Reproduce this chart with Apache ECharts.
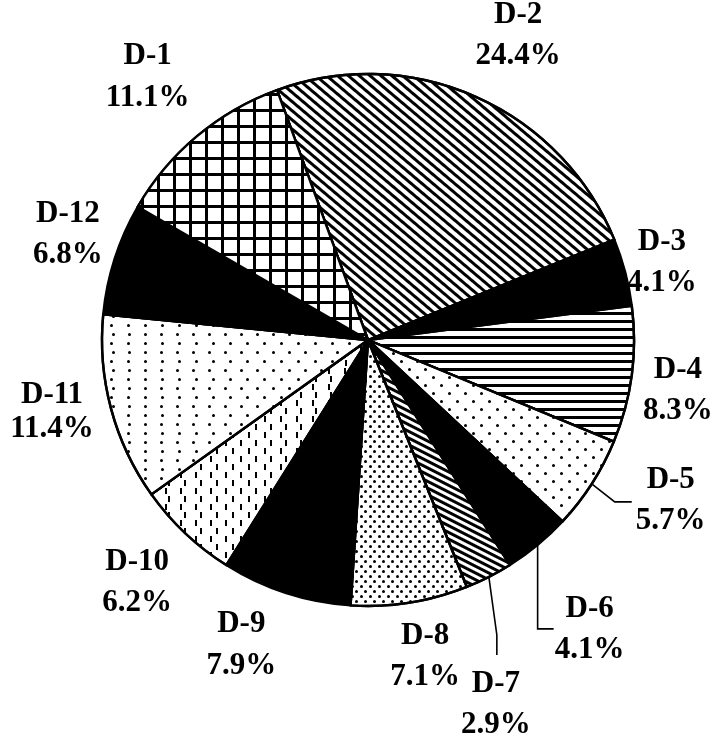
<!DOCTYPE html>
<html><head><meta charset="utf-8">
<script src="https://cdn.jsdelivr.net/npm/echarts@6/dist/echarts.min.js"></script>
<style>html,body{margin:0;padding:0;background:#fff}#c{width:713px;height:745px}</style>
</head><body><div id="c"></div>
<script>
// ---- data ----
const categories = ['D-2','D-3','D-4','D-5','D-6','D-7','D-8','D-9','D-10','D-11','D-12','D-1'];
const shares = [24.4, 4.1, 8.3, 5.7, 4.1, 2.9, 7.1, 7.9, 6.2, 11.4, 6.8, 11.1];
const shareLabels = ['24.4%','4.1%','8.3%','5.7%','4.1%','2.9%','7.1%','7.9%','6.2%','11.4%','6.8%','11.1%'];

// ---- layout ----
const CX = 368, CY = 340, R = 266, START = 110;
const labelDist  = [340, 304, 314, 0, 0, 0, 322, 330, 335, 324, 318, 343];
const labelNudge = [-2.3, 0, -1.7, 0, 0, 0, 1.2, -4.6, -0.2, -2.2, -1.5, 0];
const labelLineHeight = [41, 41, 41, 41, 41, 41, 41, 42, 41, 34, 41, 42];
const leaders = {
  3: { pts: [[23, 18], [40, 18]], text: [79, 17] },
  4: { pts: [[0, 84], [16, 84]], text: [52, 85] },
  5: { pts: [[8, 58], [8, 78]], text: [7, 128] }
};

// ---- styles ----
const BLACK = '#000', WHITE = '#fff';
const hatch = (rot, line, gap) => ({ symbol: 'rect', symbolSize: 1, dashArrayX: [1, 0], dashArrayY: [line, gap], rotation: rot, color: BLACK });
const dots = (d, px, py) => ({ symbol: 'circle', symbolSize: 1, dashArrayX: [[d, px - d], [0, px / 2, d, px / 2 - d]], dashArrayY: [d, py - d], color: BLACK });
const fills = [
  { color: WHITE, decal: hatch(0.70, 3, 3.2) },        // D-2
  { color: BLACK },                                     // D-3
  { color: WHITE, decal: hatch(0, 2.6, 4.9) },          // D-4
  { color: WHITE, decal: dots(3, 15.3, 7.6) },          // D-5
  { color: BLACK },                                     // D-6
  { color: WHITE, decal: hatch(0.47, 2.2, 2.6) },       // D-7
  { color: WHITE, decal: dots(2.6, 8, 4) },             // D-8
  { color: BLACK },                                     // D-9
  { color: WHITE, decal: { symbol: 'rect', symbolSize: 1, dashArrayX: [[2, 13], [0, 7.5, 2, 5.5]], dashArrayY: [6, 1.5], color: BLACK } }, // D-10
  { color: WHITE, decal: dots(2.6, 15.6, 7.8) },        // D-11
  { color: BLACK },                                     // D-12
  { color: BLACK, decal: { symbol: 'rect', symbolSize: 1, dashArrayX: [12.5, 2.5], dashArrayY: [12.5, 2.5], color: WHITE } } // D-1
];

const total = shares.reduce((a, b) => a + b, 0);
const mids = []; let acc = 0;
shares.forEach(v => { mids.push(acc + v / 2); acc += v; });
const midAngle = i => (START - 360 * mids[i] / total) * Math.PI / 180;

const data = categories.map((name, i) => ({
  name: name,
  value: shares[i],
  itemStyle: Object.assign({ borderColor: BLACK, borderWidth: 2.4 }, fills[i]),
  label: { lineHeight: labelLineHeight[i] },
  labelLine: { show: !!leaders[i], lineStyle: { color: BLACK, width: 1.6 } }
}));

const chart = echarts.init(document.getElementById('c'), null, { renderer: 'canvas' });
chart.setOption({
  backgroundColor: '#fff',
  animation: false,
  series: [{
    type: 'pie',
    center: [CX, CY],
    radius: R,
    startAngle: START,
    clockwise: true,
    avoidLabelOverlap: false,
    emphasis: { disabled: true },
    label: {
      show: true,
      position: 'outside',
      formatter: p => p.name + '\n' + shareLabels[p.dataIndex],
      fontFamily: '"Liberation Serif", "Times New Roman", serif',
      fontWeight: 'bold',
      fontSize: 31,
      lineHeight: 41,
      color: BLACK
    },
    labelLine: { length: 10, length2: 10 },
    labelLayout: function (p) {
      const i = p.dataIndex;
      const a = midAngle(i);
      if (leaders[i]) {
        const ex = CX + R * Math.cos(a), ey = CY - R * Math.sin(a);
        const L = leaders[i];
        return {
          x: ex + L.text[0], y: ey + L.text[1], align: 'center', verticalAlign: 'middle',
          labelLinePoints: [[ex, ey], [ex + L.pts[0][0], ey + L.pts[0][1]], [ex + L.pts[1][0], ey + L.pts[1][1]]]
        };
      }
      const b = a + labelNudge[i] * Math.PI / 180;
      const d = labelDist[i];
      return { x: CX + d * Math.cos(b), y: CY - d * Math.sin(b), align: 'center', verticalAlign: 'middle' };
    },
    data: data
  }]
});
</script>
</body></html>
